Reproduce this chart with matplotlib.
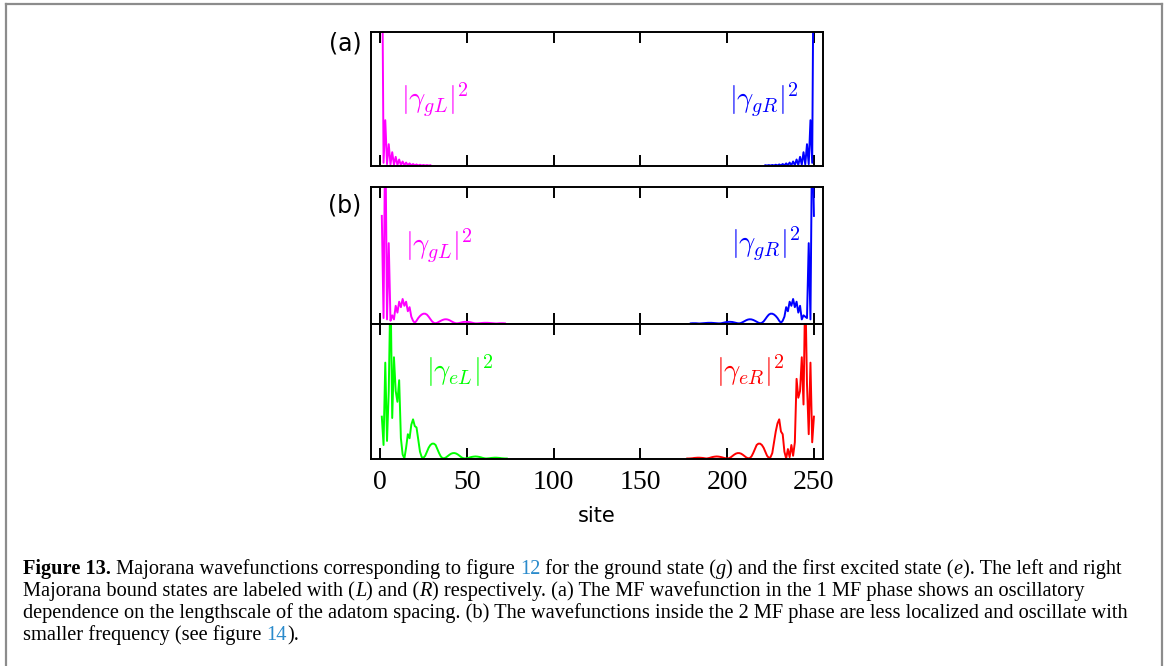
import numpy as np
import matplotlib
matplotlib.use('Agg')
import matplotlib.pyplot as plt
from matplotlib.lines import Line2D

W, H = 1168, 666

# sites of the chain
sites = np.arange(1, 251)
xticks = [0, 50, 100, 150, 200, 250]

# (a) 1 MF phase, ground state: left edge (sites 1..29) and right edge (sites 222..250)
a_gL_head = [2.0, 0.02, 0.34, 0.01, 0.16, 0.008, 0.10, 0.006, 0.065, 0.004,
             0.045, 0.003, 0.03, 0.002, 0.022, 0.002, 0.016, 0.001, 0.011, 0.001,
             0.008, 0.0, 0.006, 0.0, 0.004, 0.0, 0.003, 0.0, 0.002]
a_gR_tail = [0.002, 0.0, 0.003, 0.0, 0.004, 0.0, 0.006, 0.0, 0.008, 0.001,
             0.011, 0.001, 0.016, 0.002, 0.022, 0.002, 0.03, 0.003, 0.045, 0.004,
             0.065, 0.006, 0.10, 0.008, 0.16, 0.01, 0.34, 0.02, 2.0]

# (b) 2 MF phase, ground state: sites 1..72 and 179..250
b_gL_head = [0.79, 0.04, 1.5, 0.03, 0.59, 0.02, 0.06, 0.03, 0.13, 0.08,
             0.16, 0.12, 0.18, 0.13, 0.16, 0.09, 0.12, 0.05, 0.02, 0.005,
             0.02, 0.04, 0.055, 0.066, 0.072, 0.072, 0.065, 0.05, 0.032, 0.015,
             0.005, 0.002, 0.006, 0.013, 0.02, 0.026, 0.03, 0.031, 0.029, 0.024,
             0.017, 0.01, 0.004, 0.001, 0.002, 0.005, 0.008, 0.011, 0.012, 0.012,
             0.011, 0.009, 0.006, 0.003, 0.001, 0.001, 0.002, 0.003, 0.004, 0.005,
             0.005, 0.005, 0.004, 0.003, 0.002, 0.001, 0.0, 0.001, 0.002, 0.002,
             0.002, 0.001]
b_gR_tail = [0.001, 0.002, 0.002, 0.002, 0.001, 0.0, 0.001, 0.002, 0.003, 0.004,
             0.005, 0.005, 0.005, 0.004, 0.003, 0.002, 0.001, 0.001, 0.003, 0.006,
             0.009, 0.011, 0.012, 0.012, 0.011, 0.008, 0.005, 0.002, 0.001, 0.004,
             0.01, 0.017, 0.024, 0.029, 0.031, 0.03, 0.026, 0.02, 0.013, 0.006,
             0.002, 0.005, 0.015, 0.032, 0.05, 0.065, 0.072, 0.072, 0.066, 0.055,
             0.04, 0.02, 0.005, 0.02, 0.05, 0.12, 0.09, 0.16, 0.13, 0.18,
             0.12, 0.16, 0.08, 0.13, 0.03, 0.06, 0.05, 0.04, 0.59, 0.03,
             1.5, 0.79]

# (b) 2 MF phase, first excited state: sites 1..73 and 178..250
b_eL_head = [0.31, 0.10, 0.71, 0.13, 0.5, 1.3, 0.3, 0.75, 0.5, 0.42,
             0.58, 0.15, 0.03, 0.0, 0.08, 0.18, 0.15, 0.25, 0.29, 0.24,
             0.23, 0.14, 0.05, 0.01, 0.005, 0.02, 0.05, 0.08, 0.10, 0.11,
             0.11, 0.10, 0.07, 0.04, 0.015, 0.003, 0.002, 0.008, 0.018, 0.028,
             0.036, 0.04, 0.04, 0.036, 0.028, 0.018, 0.008, 0.002, 0.0, 0.002,
             0.005, 0.009, 0.012, 0.014, 0.015, 0.014, 0.012, 0.009, 0.005, 0.002,
             0.0, 0.001, 0.002, 0.004, 0.005, 0.006, 0.006, 0.005, 0.004, 0.002,
             0.001, 0.0, 0.0]
b_eR_tail = [0.0, 0.0, 0.001, 0.002, 0.004, 0.005, 0.006, 0.006, 0.005, 0.004,
             0.002, 0.0, 0.002, 0.005, 0.009, 0.012, 0.014, 0.015, 0.014, 0.012,
             0.009, 0.005, 0.002, 0.0, 0.002, 0.008, 0.018, 0.028, 0.036, 0.04,
             0.04, 0.036, 0.028, 0.018, 0.008, 0.002, 0.003, 0.015, 0.04, 0.07,
             0.10, 0.11, 0.11, 0.10, 0.08, 0.05, 0.02, 0.005, 0.01, 0.04,
             0.12, 0.20, 0.26, 0.29, 0.20, 0.18, 0.05, 0.0, 0.07, 0.01,
             0.10, 0.02, 0.12, 0.59, 0.45, 0.5, 0.75, 0.4, 1.3, 0.55,
             0.18, 0.71, 0.12, 0.31]


def fx(x):
    return x / W


def fy(y):
    return 1 - y / H


fig = plt.figure(figsize=(W / 100, H / 100), dpi=100)
plt.rcParams['mathtext.fontset'] = 'cm'

# panel boxes in pixel coordinates (left, top, right, bottom)
boxes = [(370.7, 32.3, 823.3, 165.5),
         (370.7, 187.3, 823.3, 323.5),
         (370.7, 323.5, 823.3, 458.5)]
axes = []
for l, t, r, b in boxes:
    ax = fig.add_axes([fx(l), fy(b), fx(r) - fx(l), fy(t) - fy(b)])
    ax.set_xlim(-5.4, 255.4)
    ax.set_ylim(0, 1.0)
    ax.set_yticks([])
    ax.set_xticks(xticks)
    ax.tick_params(axis='x', direction='in', top=True, bottom=True, length=8,
                   width=1.4, labelbottom=False)
    for s in ax.spines.values():
        s.set_linewidth(1.4)
    axes.append(ax)

lw = 1.4
series = [(0, a_gL_head, 'L', '#ff00ff'), (0, a_gR_tail, 'R', '#0000ff'),
          (1, b_gL_head, 'L', '#ff00ff'), (1, b_gR_tail, 'R', '#0000ff'),
          (2, b_eL_head, 'L', '#00ff00'), (2, b_eR_tail, 'R', '#ff0000')]
for i, vals, side, c in series:
    xs = sites[:len(vals)] if side == 'L' else sites[len(sites) - len(vals):]
    axes[i].plot(xs, vals, color=c, lw=lw)

axes[2].tick_params(axis='x', labelbottom=True, labelsize=20, pad=8)
for lab in axes[2].get_xticklabels():
    lab.set_family('Liberation Serif')
axes[2].set_xlabel('site', fontsize=15, labelpad=8)

# panel letters
fig.text(fx(345), fy(44), '(a)', fontsize=17, ha='center', va='center')
fig.text(fx(345), fy(205), '(b)', fontsize=17, ha='center', va='center')

# state labels
labels = [(401, 100, r'$|\gamma_{gL}|^2$', '#ff00ff'),
          (729, 100, r'$|\gamma_{gR}|^2$', '#0000ff'),
          (405, 246, r'$|\gamma_{gL}|^2$', '#ff00ff'),
          (731, 244, r'$|\gamma_{gR}|^2$', '#0000ff'),
          (426, 371, r'$|\gamma_{eL}|^2$', '#00ff00'),
          (716, 371, r'$|\gamma_{eR}|^2$', '#ff0000')]
for x, y, s, c in labels:
    fig.text(fx(x), fy(y), s, fontsize=20.5, color=c, ha='left', va='center')

# frame around figure and caption
frame = dict(color='#8c8c8c', lw=1.6, transform=fig.transFigure)
fig.add_artist(Line2D([fx(6), fx(6)], [fy(4), 0], **frame))
fig.add_artist(Line2D([fx(6), fx(1162)], [fy(4), fy(4)], **frame))
fig.add_artist(Line2D([fx(1162), fx(1162)], [fy(4), 0], **frame))

# caption
renderer = fig.canvas.get_renderer()
normal = dict(family='Liberation Serif')
bold = dict(family='Liberation Serif', weight='bold')
ital = dict(family='Liberation Serif', style='italic')
link = dict(family='Liberation Serif', color='#2a8bcc')

caption = [
    [('Figure 13.', bold), (' Majorana wavefunctions corresponding to figure ', normal), ('12', link),
     (' for the ground state (', normal), ('g', ital), (') and the first excited state (', normal),
     ('e', ital), ('). The left and right', normal)],
    [('Majorana bound states are labeled with (', normal), ('L', ital), (') and (', normal), ('R', ital),
     (') respectively. (a) The MF wavefunction in the 1 MF phase shows an oscillatory', normal)],
    [('dependence on the lengthscale of the adatom spacing. (b) The wavefunctions inside the 2 MF phase '
      'are less localized and oscillate with', normal)],
    [('smaller frequency (see figure ', normal), ('14', link), (').', normal)],
]
baselines = [574, 596, 618, 640]
x0 = 23


def run_width(s, size, style):
    t1 = fig.text(0, 0, '.' + s + '.', fontsize=size, **style)
    t2 = fig.text(0, 0, '..', fontsize=size, **style)
    w = t1.get_window_extent(renderer).width - t2.get_window_extent(renderer).width
    t1.remove()
    t2.remove()
    return w


# fit the longest caption lines (1 and 3) to the width they take on the page
w1 = sum(run_width(s, 10, st) for s, st in caption[0])
w3 = sum(run_width(s, 10, st) for s, st in caption[2])
csize = 10 * ((1147 - x0) + (1133 - x0)) / (w1 + w3) * 0.99

for line, yb in zip(caption, baselines):
    x = x0
    for s, st in line:
        fig.text(fx(x), fy(yb), s, fontsize=csize, ha='left', va='baseline', **st)
        x += run_width(s, csize, st)

fig.savefig('out.png', dpi=100)
